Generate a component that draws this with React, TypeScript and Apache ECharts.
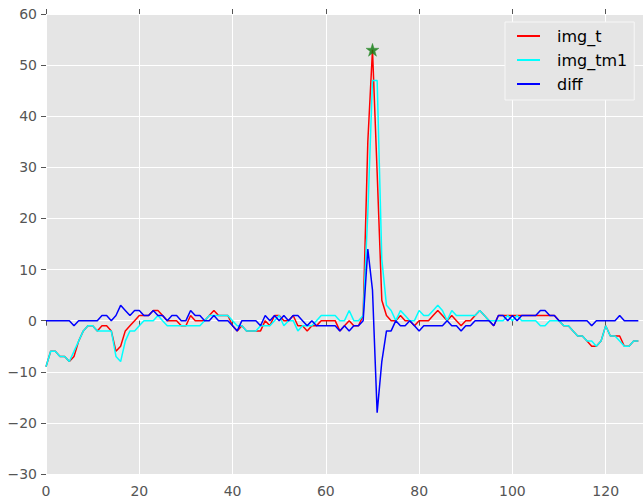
import React, { useEffect, useRef } from "react";
import * as echarts from "echarts";

const seriesNames = ["img_t", "img_tm1", "diff"];
const xTickValues = [0, 20, 40, 60, 80, 100, 120];
const yTickValues = [-30, -20, -10, 0, 10, 20, 30, 40, 50, 60];

const imgT = [
  -9, -6, -6, -7, -7, -8, -7, -4, -2, -1,
  -1, -2, -1, -1, -2, -6, -5, -2, -1, 0,
  1, 1, 1, 2, 2, 1, 0, 0, 0, -1,
  -1, 1, 0, 0, 0, 1, 2, 1, 1, 1,
  -1, -2, -1, -2, -2, -2, -2, 0, -1, 1,
  1, 0, 0, 1, -1, -1, -2, -1, -1, 0,
  0, 0, 0, -2, -1, 0, -1, -1, 1, 35,
  53, 29, 4, 1, 0, 0, 1, 0, 0, -1,
  0, 0, 0, 1, 2, 1, 0, 1, 0, -1,
  0, 0, 1, 2, 1, 0, -1, 1, 1, 1,
  1, 1, 1, 1, 1, 1, 1, 1, 1, 1,
  0, -1, -1, -2, -3, -3, -4, -5, -5, -4,
  -1, -3, -3, -3, -5, -5, -4, -4,
];

const imgTm1 = [
  -9, -6, -6, -7, -7, -8, -6, -4, -2, -1,
  -1, -2, -2, -2, -2, -7, -8, -4, -2, -2,
  -1, 0, 0, 0, 1, 0, -1, -1, -1, -1,
  -1, -1, -1, -1, 0, 1, 1, 1, 1, 1,
  0, -1, -1, -2, -2, -2, -1, -1, -1, 0,
  1, -1, 0, 0, -2, -1, -1, -1, 0, 1,
  1, 1, 1, 0, 0, 2, 0, 0, 1, 21,
  47, 47, 12, 3, 2, 0, 2, 1, 0, 0,
  2, 1, 1, 2, 3, 2, 0, 2, 1, 1,
  1, 1, 1, 2, 1, 0, 0, 0, 0, 1,
  0, 1, 0, 0, 0, 0, -1, -1, 0, 0,
  0, -1, -1, -2, -3, -3, -4, -4, -5, -4,
  -1, -3, -3, -4, -5, -5, -4, -4,
];

const diffValues = [
  0, 0, 0, 0, 0, 0, -1, 0, 0, 0,
  0, 0, 1, 1, 0, 1, 3, 2, 1, 2,
  2, 1, 1, 2, 1, 1, 0, 1, 1, 0,
  0, 2, 1, 1, 0, 0, 1, 0, 0, 0,
  -1, -2, 0, 0, 0, 0, -1, 1, 0, 1,
  0, 1, 0, 1, 1, 0, -1, 0, -1, -1,
  -1, -1, -1, -2, -1, -2, -1, -1, 0, 14,
  6, -18, -8, -2, -2, 0, -1, -1, 0, -1,
  -2, -1, -1, -1, -1, -1, 0, -1, -1, -2,
  -1, -1, 0, 0, 0, 0, -1, 1, 1, 0,
  1, 0, 1, 1, 1, 1, 2, 2, 1, 1,
  0, 0, 0, 0, 0, 0, 0, -1, 0, 0,
  0, 0, 0, 1, 0, 0, 0, 0,
];

const peakPoint = [70, 53];

const STAR =
  "path://M50,0 L61.8,35.4 L98.5,35.4 L68.8,57.3 L80,92.7 L50,70.8 L20,92.7 L31.2,57.3 L1.5,35.4 L38.2,35.4 Z";

const toPairs = (arr: number[]) => arr.map((v, i) => [i, v]);
const fmt = (v: number) => String(v).replace("-", "\u2212");

export default function App() {
  const ref = useRef<HTMLDivElement>(null);

  useEffect(() => {
    if (!ref.current) return;
    const chart = echarts.init(ref.current, null, { renderer: "svg" });
    const tickColor = "#555555";
    const font = "DejaVu Sans";
    const xMin = xTickValues[0];
    const xStep = xTickValues[1] - xTickValues[0];
    const yStep = yTickValues[1] - yTickValues[0];

    const option: any = {
      animation: false,
      backgroundColor: "#ffffff",
      grid: {
        left: 46,
        top: 14,
        width: 598,
        height: 460,
        show: true,
        backgroundColor: "#E5E5E5",
        borderWidth: 0,
      },
      xAxis: [
        {
          type: "value",
          min: xMin,
          max: 128,
          interval: xStep,
          position: "bottom",
          axisLine: { show: false },
          axisTick: { show: true, inside: false, length: 5, lineStyle: { color: tickColor, width: 1 } },
          axisLabel: {
            color: tickColor,
            fontSize: 14,
            fontFamily: font,
            margin: 10,
            showMaxLabel: false,
            formatter: fmt,
          },
          splitLine: { show: true, lineStyle: { color: "#ffffff", width: 1 } },
        },
        {
          type: "value",
          min: xMin,
          max: 128,
          interval: xStep,
          position: "top",
          axisLine: { show: false },
          axisTick: { show: true, inside: false, length: 5, lineStyle: { color: tickColor, width: 1 } },
          axisLabel: { show: false },
          splitLine: { show: false },
        },
      ],
      yAxis: {
        type: "value",
        min: yTickValues[0],
        max: yTickValues[yTickValues.length - 1],
        interval: yStep,
        axisLine: { show: false },
        axisTick: { show: true, inside: false, length: 5, lineStyle: { color: tickColor, width: 1 } },
        axisLabel: {
          color: tickColor,
          fontSize: 14,
          fontFamily: font,
          margin: 9,
          formatter: fmt,
        },
        splitLine: { show: true, lineStyle: { color: "#ffffff", width: 1 } },
      },
      legend: {
        data: seriesNames,
        orient: "vertical",
        left: 505,
        top: 22,
        icon: "rect",
        itemWidth: 23,
        itemHeight: 2,
        itemGap: 4,
        padding: [4, 7, 6, 12],
        backgroundColor: "#E5E5E5",
        borderColor: "#f7f7f7",
        borderWidth: 1,
        textStyle: {
          fontFamily: font,
          fontSize: 16,
          color: "#000000",
          lineHeight: 20,
          padding: [0, 0, 0, 12],
        },
      },
      series: [
        {
          name: seriesNames[0],
          type: "line",
          data: toPairs(imgT),
          showSymbol: false,
          symbol: "none",
          lineStyle: { color: "#ff0000", width: 1.5 },
          itemStyle: { color: "#ff0000" },
          z: 2,
        },
        {
          name: seriesNames[1],
          type: "line",
          data: toPairs(imgTm1),
          showSymbol: false,
          symbol: "none",
          lineStyle: { color: "#00ffff", width: 1.5 },
          itemStyle: { color: "#00ffff" },
          z: 3,
        },
        {
          name: seriesNames[2],
          type: "line",
          data: toPairs(diffValues),
          showSymbol: false,
          symbol: "none",
          lineStyle: { color: "#0000ff", width: 1.5 },
          itemStyle: { color: "#0000ff" },
          z: 4,
        },
        {
          name: "peak",
          type: "scatter",
          data: [peakPoint],
          symbol: STAR,
          symbolSize: 13,
          itemStyle: { color: "#0a780a", borderColor: "#2f8f2f", borderWidth: 0.5 },
          z: 5,
        },
      ],
    };

    chart.setOption(option);
    return () => chart.dispose();
  }, []);

  return (
    <div
      ref={ref}
      style={{ position: "fixed", left: 0, top: 0, width: 643, height: 500 }}
    />
  );
}
